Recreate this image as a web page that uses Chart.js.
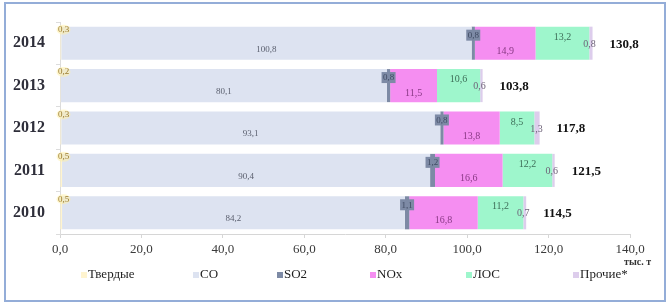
<!DOCTYPE html>
<html>
<head>
<meta charset="utf-8">
<script src="https://cdn.jsdelivr.net/npm/chart.js@4.4.1/dist/chart.umd.min.js"></script>
<style>
    html, body { margin: 0; padding: 0; background: #fff; }
    #wrap { position: relative; width: 670px; height: 306px; }
    #frame {
        position: absolute; left: 4px; top: 2px; width: 662px; height: 300px;
        border: 2px solid #94add8; box-sizing: border-box; pointer-events: none;
    }
    canvas { position: absolute; left: 0; top: 0; }
</style>
</head>
<body>
<div id="wrap">
    <canvas id="chart" width="670" height="306"></canvas>
    <div id="frame"></div>
</div>
<script>
// Emissions by year, thousand tonnes (top row = 2014)
const years = ['2014', '2013', '2012', '2011', '2010'];
const solids = [0.3, 0.2, 0.3, 0.5, 0.5];
const co = [100.8, 80.1, 93.1, 90.4, 84.2];
const so2 = [0.8, 0.8, 0.8, 1.2, 1.1];
const nox = [14.9, 11.5, 13.8, 16.6, 16.8];
const voc = [13.2, 10.6, 8.5, 12.2, 11.2];
const other = [0.8, 0.6, 1.3, 0.6, 0.7];
const totals = [130.8, 103.8, 117.8, 121.5, 114.5];
const xTicks = [0, 20, 40, 60, 80, 100, 120, 140];

const SERIF = '"Liberation Serif", "Times New Roman", serif';
const fmt = v => v.toFixed(1).replace('.', ',');

const series = [
    { label: 'Твердые', data: solids, color: '#fff4cf' },
    { label: 'CO', data: co, color: '#dde3f1' },
    { label: 'SO2', data: so2, color: '#7d8aa5' },
    { label: 'NOx', data: nox, color: '#f58ef1' },
    { label: 'ЛОС', data: voc, color: '#9ef6cc' },
    { label: 'Прочие*', data: other, color: '#ddcdec' }
];

// draws the value labels inside/next to each segment
const valueLabels = {
    id: 'valueLabels',
    afterDatasetsDraw(chart) {
        const ctx = chart.ctx;
        ctx.save();
        ctx.textBaseline = 'middle';
        ctx.textAlign = 'center';
        chart.data.datasets.forEach((ds, di) => {
            const meta = chart.getDatasetMeta(di);
            meta.data.forEach((bar, i) => {
                const v = ds.data[i];
                const mid = (bar.x + bar.base) / 2;
                const top = bar.y - bar.height / 2;
                const txt = fmt(v);
                if (di === 0) {
                    ctx.fillStyle = 'rgba(255, 240, 170, 0.55)';
                    ctx.beginPath();
                    ctx.ellipse(bar.base + 3, top + 3, 7, 5, 0, 0, Math.PI * 2);
                    ctx.fill();
                    ctx.font = '9px ' + SERIF;
                    ctx.fillStyle = '#9a7b2e';
                    ctx.fillText(txt, bar.base + 3, top + 3);
                } else if (di === 1) {
                    ctx.font = '9px ' + SERIF;
                    ctx.fillStyle = '#5a5f6e';
                    ctx.fillText(txt, mid, bar.y + 6);
                } else if (di === 2) {
                    ctx.fillStyle = '#7d8aa5';
                    ctx.fillRect(mid - 7, top + 3, 14, 11);
                    ctx.font = '9px ' + SERIF;
                    ctx.fillStyle = '#3f4a62';
                    ctx.fillText(txt, mid, top + 9);
                } else if (di === 3) {
                    ctx.font = '10px ' + SERIF;
                    ctx.fillStyle = '#8a3a86';
                    ctx.fillText(txt, mid, bar.y + 8);
                } else if (di === 4) {
                    ctx.font = '10px ' + SERIF;
                    ctx.fillStyle = '#3d6e58';
                    ctx.fillText(txt, mid, bar.y - 6);
                } else if (di === 5) {
                    ctx.font = '10px ' + SERIF;
                    ctx.fillStyle = '#6e6378';
                    ctx.fillText(txt, bar.x - 3, bar.y + 1);
                    // total at the end of the row
                    ctx.save();
                    ctx.textAlign = 'left';
                    ctx.font = 'bold 13px ' + SERIF;
                    ctx.fillStyle = '#111';
                    ctx.fillText(fmt(totals[i]), bar.x + 17, bar.y + 1);
                    ctx.restore();
                }
            });
        });
        ctx.restore();
    }
};

// legend spread along the bottom, plus the unit label
const bottomLegend = {
    id: 'bottomLegend',
    afterDraw(chart) {
        const ctx = chart.ctx;
        const xs = [81, 193, 277, 370, 466, 573];
        ctx.save();
        ctx.textBaseline = 'middle';
        ctx.textAlign = 'left';
        ctx.font = '13px ' + SERIF;
        chart.data.datasets.forEach((ds, i) => {
            ctx.fillStyle = ds.backgroundColor;
            ctx.fillRect(xs[i], 272, 6, 6);
            ctx.fillStyle = '#1e1e1e';
            ctx.fillText(ds.label, xs[i] + 7, 275);
        });
        ctx.font = 'bold 10px ' + SERIF;
        ctx.fillStyle = '#333';
        ctx.fillText('тыс. т', 624, 262);
        ctx.restore();
    }
};

new Chart(document.getElementById('chart'), {
    type: 'bar',
    data: {
        labels: years,
        datasets: series.map(s => ({
            label: s.label,
            data: s.data,
            backgroundColor: s.color,
            borderWidth: 0,
            barPercentage: 0.78,
            categoryPercentage: 1
        }))
    },
    options: {
        indexAxis: 'y',
        responsive: false,
        animation: false,
        layout: { padding: { top: 22, right: 40, bottom: 48, left: 0 } },
        plugins: {
            legend: { display: false },
            tooltip: { enabled: false }
        },
        scales: {
            x: {
                stacked: true,
                min: 0,
                max: 140,
                afterBuildTicks: scale => { scale.ticks = xTicks.map(v => ({ value: v })); },
                afterFit: scale => { scale.height = 24; },
                grid: { drawOnChartArea: false, color: '#d6d6d6', tickLength: 4 },
                border: { color: '#d6d6d6' },
                ticks: {
                    padding: 4,
                    color: '#3a3a3a',
                    font: { family: SERIF, size: 13 },
                    callback: v => fmt(v)
                }
            },
            y: {
                stacked: true,
                afterFit: scale => { scale.width = 60; },
                grid: { drawOnChartArea: false, color: '#dcdcdc', tickLength: 4 },
                border: { color: '#dcdcdc' },
                ticks: {
                    padding: 11,
                    color: '#2e2e3a',
                    font: { family: SERIF, size: 16, weight: 'bold' }
                }
            }
        }
    },
    plugins: [valueLabels, bottomLegend]
});
</script>
</body>
</html>
